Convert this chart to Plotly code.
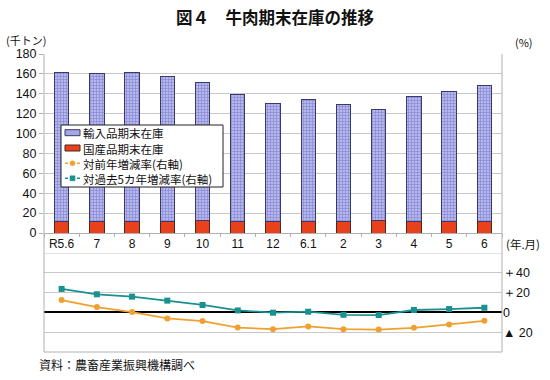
import plotly.graph_objects as go

categories = ["R5.6", "7", "8", "9", "10", "11", "12", "6.1", "2", "3", "4", "5", "6"]
imported = [149, 148, 149, 145, 138.5, 127.5, 118.5, 122.5, 117.5, 111.5, 125, 130, 136]
domestic = [12, 12, 12, 12, 13, 12, 12, 12, 12, 13, 12, 12, 12]
yoy_change = [12.5, 5.4, 0.3, -6.1, -8.8, -15.3, -16.9, -14.2, -16.9, -17.3, -15.6, -12.2, -8.5]
five_year_change = [23.7, 18.3, 15.9, 11.9, 7.5, 2.0, -0.3, 0.7, -2.4, -2.7, 2.4, 3.4, 4.7]
left_ticks = list(range(0, 181, 20))
right_tickvals = [40, 20, 0, -20]
right_ticktext = ["＋40", "＋20", "0", "▲ 20"]
legend_names = ["輸入品期末在庫", "国産品期末在庫", "対前年増減率(右軸)", "対過去5カ年増減率(右軸)"]

JP = "Noto Sans CJK JP"
NUM = "Liberation Sans"

IMP_COLOR = "#b6b8ec"
IMP_FG = "#5456bc"
DOM_COLOR = "#e8411c"
YOY_COLOR = "#f0a030"
FIVE_COLOR = "#1a9090"

W, H = 550, 380
PL, PR, PT, PB = 44, 502, 54, 352  # plot area in window pixels


def px(x):
    return (x - PL) / (PR - PL)


def py(y):
    return (PB - y) / (PB - PT)


fig = go.Figure()

fig.add_trace(go.Bar(
    x=categories, y=domestic, name=legend_names[1], showlegend=False,
    marker=dict(color=DOM_COLOR, line=dict(color="#4a2a20", width=1)),
    width=0.41, xaxis="x", yaxis="y",
))
fig.add_trace(go.Bar(
    x=categories, y=imported, name=legend_names[0], showlegend=False,
    marker=dict(color=IMP_COLOR, line=dict(color="#3a3a6a", width=1),
                pattern=dict(shape="+", fgcolor=IMP_FG, bgcolor=IMP_COLOR, size=3, solidity=0.4)),
    width=0.41, xaxis="x", yaxis="y",
))
fig.add_trace(go.Scatter(
    x=categories, y=yoy_change, name=legend_names[2], mode="lines+markers", showlegend=False,
    line=dict(color=YOY_COLOR, width=1.8), marker=dict(symbol="circle", size=6, color=YOY_COLOR),
    xaxis="x2", yaxis="y2",
))
fig.add_trace(go.Scatter(
    x=categories, y=five_year_change, name=legend_names[3], mode="lines+markers", showlegend=False,
    line=dict(color=FIVE_COLOR, width=1.8), marker=dict(symbol="square", size=6, color=FIVE_COLOR),
    xaxis="x2", yaxis="y2",
))

fig.update_layout(
    width=W, height=H,
    margin=dict(l=PL, r=W - PR, t=PT, b=H - PB, autoexpand=False),
    paper_bgcolor="white", plot_bgcolor="white",
    barmode="stack",
    showlegend=False,
    xaxis=dict(
        domain=[0, 1], anchor="y", type="category", range=[-0.5, 12.5],
        showline=True, linecolor="#b0b0b0", linewidth=1,
        ticks="outside", tickson="boundaries", ticklen=3, tickcolor="#b0b0b0",
        tickfont=dict(family=NUM, size=12, color="#111111"),
        showgrid=False,
    ),
    yaxis=dict(
        domain=[py(233), 1], anchor="x", range=[0, 180],
        tickvals=left_ticks, ticks="outside", ticklen=4, tickcolor="#b0b0b0",
        tickfont=dict(family=NUM, size=12.5, color="#111111"),
        showgrid=True, gridcolor="#c8c8c8", gridwidth=1,
        showline=False, zeroline=False,
    ),
    xaxis2=dict(
        domain=[0, 1], anchor="y2", type="category", range=[-0.5, 12.5],
        showticklabels=False, showgrid=False, showline=False, ticks="",
    ),
    yaxis2=dict(
        domain=[0, py(253)], anchor="x2", range=[-40, 60], side="right",
        tickvals=right_tickvals, ticktext=right_ticktext,
        tickfont=dict(family=NUM, size=12.5, color="#111111"),
        showgrid=True, gridcolor="#c8c8c8", gridwidth=1,
        zeroline=True, zerolinecolor="#000000", zerolinewidth=1.8,
        showline=False, ticks="",
    ),
)

# frame lines
line_gray = dict(color="#b0b0b0", width=1)
fig.add_shape(type="line", xref="paper", yref="paper", x0=0, x1=0, y0=0, y1=1, line=line_gray)
fig.add_shape(type="line", xref="paper", yref="paper", x0=1, x1=1, y0=0, y1=1, line=line_gray)
fig.add_shape(type="line", xref="paper", yref="paper", x0=0, x1=1, y0=0, y1=0, line=line_gray)
fig.add_shape(type="line", xref="paper", yref="y2", x0=0, x1=1, y0=60, y1=60,
              line=dict(color="#c8c8c8", width=1))

# manual legend
fig.add_shape(type="rect", xref="paper", yref="paper", x0=px(61), x1=px(223), y0=py(187), y1=py(125),
              line=dict(color="#222222", width=1), fillcolor="white", layer="above")
row_y = [132.7, 148, 163.3, 178.3]
fig.add_shape(type="rect", xref="paper", yref="paper", x0=px(65), x1=px(80),
              y0=py(row_y[0] + 3), y1=py(row_y[0] - 3),
              line=dict(color="#3a3a6a", width=1), fillcolor="#a4a8e4", layer="above")
fig.add_shape(type="rect", xref="paper", yref="paper", x0=px(65), x1=px(80),
              y0=py(row_y[1] + 3), y1=py(row_y[1] - 3),
              line=dict(color="#4a2a20", width=1), fillcolor=DOM_COLOR, layer="above")
for ry, col, sym in [(row_y[2], YOY_COLOR, "circle"), (row_y[3], FIVE_COLOR, "square")]:
    fig.add_shape(type="line", xref="paper", yref="paper", x0=px(65), x1=px(80),
                  y0=py(ry), y1=py(ry), line=dict(color=col, width=1.5, dash="dot"), layer="above")
    fig.add_shape(type="circle" if sym == "circle" else "rect", xref="paper", yref="paper",
                  x0=px(70), x1=px(75), y0=py(ry + 2.5), y1=py(ry - 2.5),
                  line=dict(color=col, width=0.5), fillcolor=col, layer="above")
for name, ry in zip(legend_names, row_y):
    fig.add_annotation(text=name, xref="paper", yref="paper", x=px(81), y=py(ry),
                       xanchor="left", yanchor="middle", showarrow=False, height=15,
                       font=dict(family=JP, size=11.5, color="#111111"))

fig.add_annotation(text="<b>図４　牛肉期末在庫の推移</b>", xref="paper", yref="paper",
                   x=px(275), y=py(17), xanchor="center", yanchor="middle",
                   showarrow=False, font=dict(family=JP, size=16.5, color="#111111"))
fig.add_annotation(text="(千トン)", xref="paper", yref="paper", x=px(4), y=py(40),
                   xanchor="left", yanchor="middle",
                   showarrow=False, font=dict(family=JP, size=11, color="#111111"))
fig.add_annotation(text="(%)", xref="paper", yref="paper", x=px(513), y=py(42),
                   xanchor="left", yanchor="middle",
                   showarrow=False, font=dict(family=JP, size=11, color="#111111"))
fig.add_annotation(text="(年.月)", xref="paper", yref="paper", x=px(504), y=py(244),
                   xanchor="left", yanchor="middle",
                   showarrow=False, font=dict(family=JP, size=11.5, color="#111111"))
fig.add_annotation(text="資料：農畜産業振興機構調べ", xref="paper", yref="paper", x=px(37), y=py(364),
                   xanchor="left", yanchor="middle",
                   showarrow=False, font=dict(family=JP, size=12, color="#111111"))

fig.write_html("out.html", config={"displayModeBar": False},
               post_script="document.body.style.margin='0';")
